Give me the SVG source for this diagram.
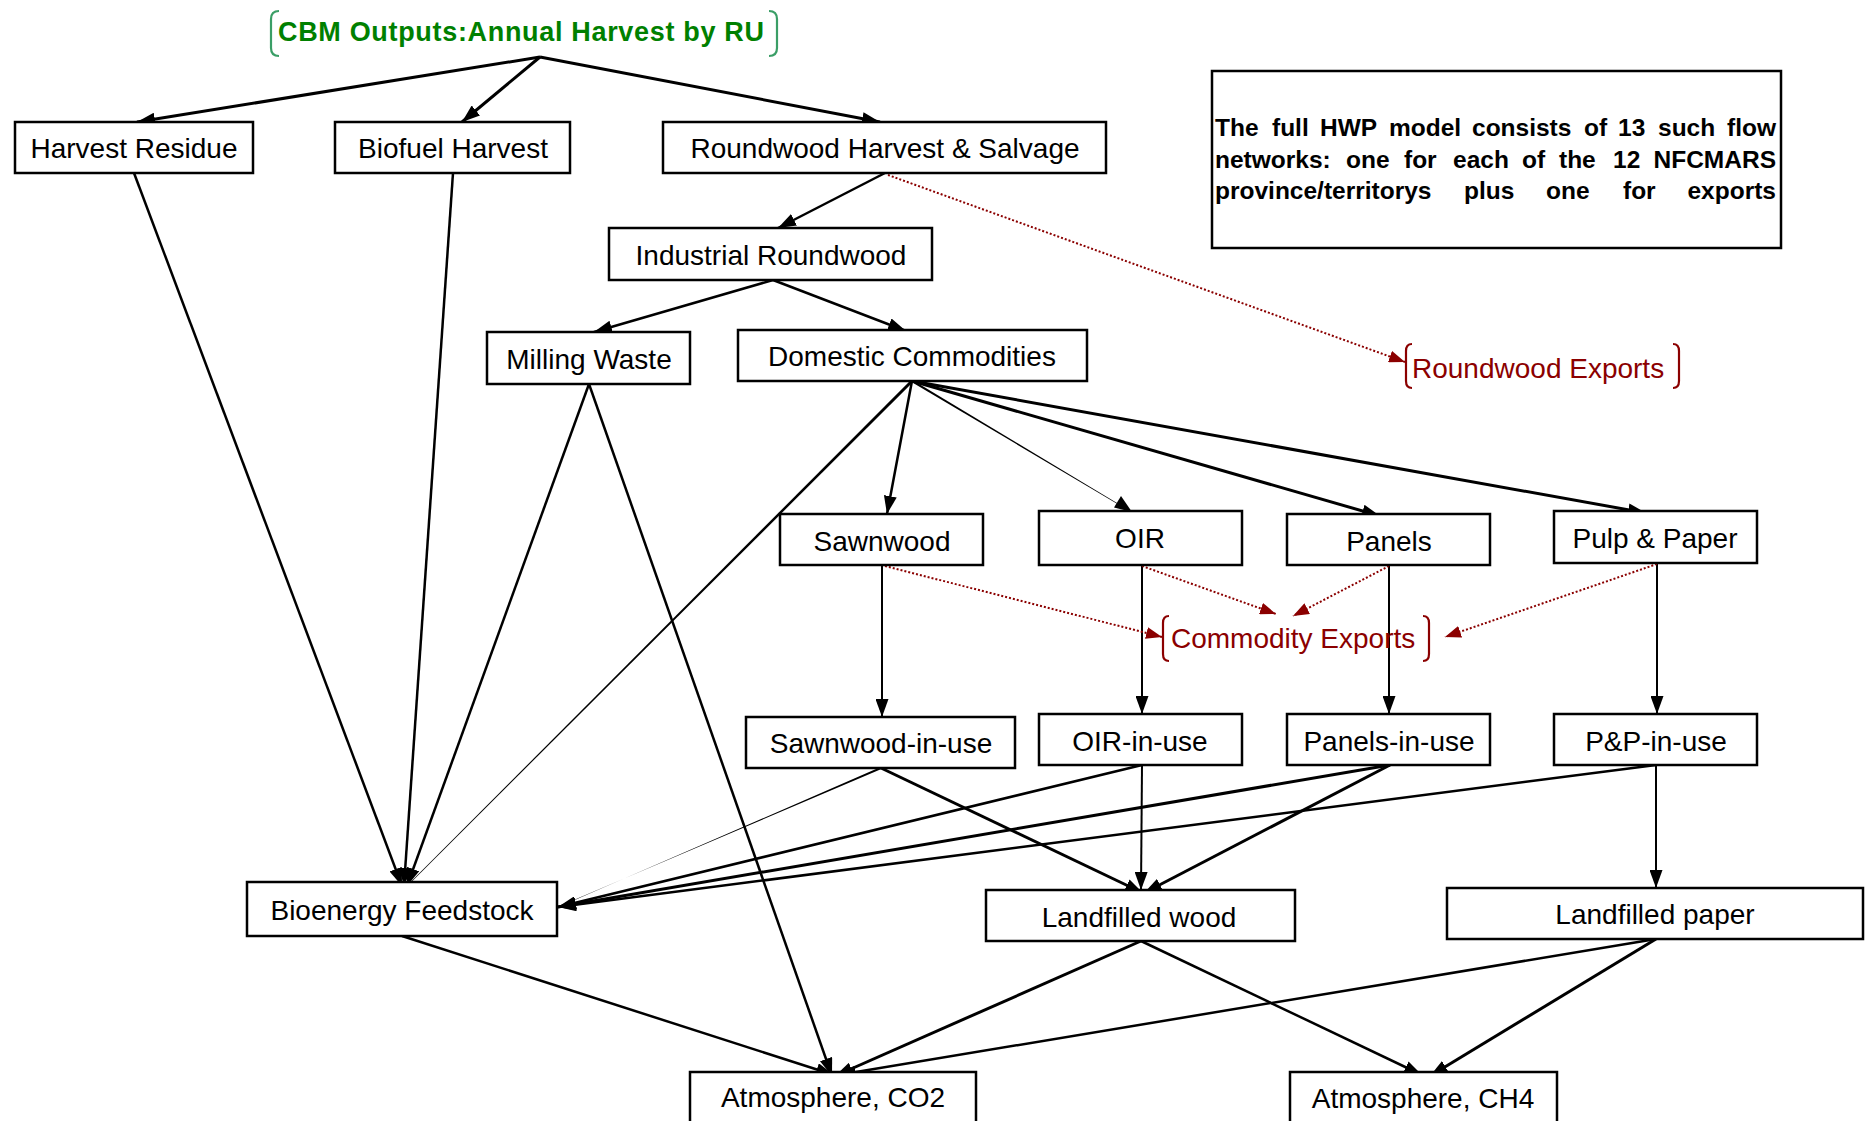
<svg xmlns="http://www.w3.org/2000/svg" width="1870" height="1121" viewBox="0 0 1870 1121">
<style>
.box{fill:#fff;stroke:#000;stroke-width:2.5}
.lbl{font-family:"Liberation Sans",Arial,Helvetica,sans-serif;font-size:28px;fill:#000;text-anchor:middle}
.note{font-family:"Liberation Sans",Arial,Helvetica,sans-serif;font-size:24.5px;font-weight:bold;fill:#000}
.c{stroke:#000;fill:none;marker-end:url(#ah)}
.w2{stroke-width:2}
.w25{stroke-width:2.5}
.w3{stroke-width:3}
.d{stroke:#8B0000;stroke-width:2;stroke-dasharray:2 2;fill:none;marker-end:url(#ahr)}
.taper{fill:#000;stroke:none}
.brk{fill:none;stroke-width:2.2}
</style>
<defs>
<marker id="ah" markerUnits="userSpaceOnUse" markerWidth="18" markerHeight="13" refX="18" refY="6.5" orient="auto">
<path d="M0,0 L18,6.5 L0,13 z" fill="#000"/>
</marker>
<marker id="ahr" markerUnits="userSpaceOnUse" markerWidth="16" markerHeight="12" refX="16" refY="6" orient="auto">
<path d="M0,0 L16,6 L0,12 z" fill="#8B0000"/>
</marker>
</defs>
<rect width="1870" height="1121" fill="#fff"/>

<g id="connectors">
<line class="c w3" x1="540" y1="57" x2="137" y2="122"/>
<line class="c w3" x1="540" y1="57" x2="462" y2="122"/>
<line class="c w3" x1="540" y1="57" x2="880" y2="122"/>
<line class="c w25" x1="134" y1="173" x2="402" y2="886"/>
<line class="c w25" x1="453" y1="173" x2="404" y2="886"/>
<line class="c w25" x1="589" y1="384" x2="407" y2="886"/>
<line class="c w25" x1="589" y1="384" x2="832" y2="1076"/>
<polygon class="taper" points="913.1,382.1 411.2,882.2 410.8,881.8 910.9,379.9"/>
<line class="c w25" x1="885" y1="173" x2="778" y2="228"/>
<line class="d" x1="888" y1="175" x2="1405" y2="362"/>
<line class="c w25" x1="773" y1="280" x2="594" y2="332"/>
<line class="c w25" x1="773" y1="280" x2="906" y2="331"/>
<line class="c w25" x1="912" y1="381" x2="887" y2="514"/>
<polygon class="taper" points="911.5,381.9 1120,505.6 1120.3,505 912.5,380.1"/>
<path d="M1132,512 L1114,507.5 L1121,496 z" fill="#000"/>
<line class="c w3" x1="912" y1="381" x2="1380" y2="516"/>
<line class="c w3" x1="912" y1="381" x2="1646" y2="513"/>
<line class="c w2" x1="882" y1="565" x2="882" y2="717"/>
<line class="c w2" x1="1142" y1="565" x2="1142" y2="714"/>
<line class="c w2" x1="1389" y1="565" x2="1389" y2="714"/>
<line class="c w2" x1="1657" y1="563" x2="1657" y2="714"/>
<line class="d" x1="885" y1="566" x2="1162" y2="637"/>
<line class="d" x1="1142" y1="566" x2="1276" y2="614"/>
<line class="d" x1="1389" y1="566" x2="1293" y2="616"/>
<line class="d" x1="1657" y1="564" x2="1445" y2="637"/>
<polygon class="taper" points="880.6,767.1 558.1,907.3 557.9,906.7 881.4,768.9"/>
<line class="c w3" x1="881" y1="768" x2="1143" y2="893"/>
<line class="c w25" x1="1142" y1="765" x2="558" y2="907"/>
<line class="c w2" x1="1142" y1="765" x2="1141" y2="890"/>
<line class="c w3" x1="1390" y1="765" x2="558" y2="907"/>
<line class="c w3" x1="1390" y1="765" x2="1144" y2="893"/>
<line class="c w25" x1="1656" y1="765" x2="558" y2="907"/>
<line class="c w2" x1="1656" y1="765" x2="1656" y2="888"/>
<line class="c w25" x1="402" y1="936" x2="834" y2="1075"/>
<line class="c w3" x1="1141" y1="941" x2="835" y2="1076"/>
<line class="c w25" x1="1141" y1="941" x2="1422" y2="1075"/>
<line class="c w25" x1="1656" y1="939" x2="838" y2="1075"/>
<line class="c w3" x1="1656" y1="939" x2="1430" y2="1076"/>
</g>

<g id="cbm-outputs">
<path class="brk" stroke="#3A9E66" d="M279,11 Q271,11 271,19 L271,48 Q271,56 279,56"/>
<path class="brk" stroke="#3A9E66" d="M769,11 Q777,11 777,19 L777,48 Q777,56 769,56"/>
<text x="521" y="41" font-family="'Liberation Sans',Arial,Helvetica,sans-serif" font-size="27" font-weight="bold" fill="#008000" text-anchor="middle" textLength="486" lengthAdjust="spacing">CBM Outputs:Annual Harvest by RU</text>
</g>

<g id="note">
<rect class="box" x="1212" y="71" width="569" height="177"/>
<text class="note" y="136"><tspan x="1215">The</tspan><tspan x="1272">full</tspan><tspan x="1320">HWP</tspan><tspan x="1389">model</tspan><tspan x="1472">consists</tspan><tspan x="1584">of</tspan><tspan x="1618">13</tspan><tspan x="1658">such</tspan></text>
<text class="note" x="1776" y="136" text-anchor="end">flow</text>
<text class="note" y="168"><tspan x="1215">networks:</tspan><tspan x="1346">one</tspan><tspan x="1404">for</tspan><tspan x="1453">each</tspan><tspan x="1522">of</tspan><tspan x="1559">the</tspan><tspan x="1613">12</tspan></text>
<text class="note" x="1776" y="168" text-anchor="end">NFCMARS</text>
<text class="note" y="199"><tspan x="1215">province/territorys</tspan><tspan x="1464">plus</tspan><tspan x="1546">one</tspan><tspan x="1623">for</tspan></text>
<text class="note" x="1776" y="199" text-anchor="end">exports</text>
</g>

<g id="harvest-residue"><rect class="box" x="15" y="122" width="238" height="51"/><text class="lbl" x="134" y="158">Harvest Residue</text></g>
<g id="biofuel-harvest"><rect class="box" x="335" y="122" width="235" height="51"/><text class="lbl" x="453" y="158">Biofuel Harvest</text></g>
<g id="roundwood-harvest"><rect class="box" x="663" y="122" width="443" height="51"/><text class="lbl" x="885" y="158">Roundwood Harvest &amp; Salvage</text></g>
<g id="industrial-roundwood"><rect class="box" x="609" y="228" width="323" height="52"/><text class="lbl" x="771" y="265">Industrial Roundwood</text></g>
<g id="milling-waste"><rect class="box" x="487" y="332" width="203" height="52"/><text class="lbl" x="589" y="369">Milling Waste</text></g>
<g id="domestic-commodities"><rect class="box" x="738" y="330" width="349" height="51"/><text class="lbl" x="912" y="366">Domestic Commodities</text></g>

<g id="roundwood-exports">
<path class="brk" stroke="#8B0000" d="M1412,344 Q1406,344 1406,351 L1406,381 Q1406,388 1412,388"/>
<path class="brk" stroke="#8B0000" d="M1673,344 Q1679,344 1679,351 L1679,381 Q1679,388 1673,388"/>
<text x="1412" y="378" font-family="'Liberation Sans',Arial,Helvetica,sans-serif" font-size="28" fill="#8B0000">Roundwood Exports</text>
</g>

<g id="sawnwood"><rect class="box" x="780" y="514" width="203" height="51"/><text class="lbl" x="882" y="551">Sawnwood</text></g>
<g id="oir"><rect class="box" x="1039" y="511" width="203" height="54"/><text class="lbl" x="1140" y="548">OIR</text></g>
<g id="panels"><rect class="box" x="1287" y="514" width="203" height="51"/><text class="lbl" x="1389" y="551">Panels</text></g>
<g id="pulp-paper"><rect class="box" x="1554" y="511" width="203" height="52"/><text class="lbl" x="1655" y="548">Pulp &amp; Paper</text></g>

<g id="commodity-exports">
<path class="brk" stroke="#8B0000" d="M1169,616 Q1163,616 1163,623 L1163,654 Q1163,661 1169,661"/>
<path class="brk" stroke="#8B0000" d="M1423,616 Q1429,616 1429,623 L1429,654 Q1429,661 1423,661"/>
<text x="1171" y="648" font-family="'Liberation Sans',Arial,Helvetica,sans-serif" font-size="28" fill="#8B0000">Commodity Exports</text>
</g>

<g id="sawnwood-in-use"><rect class="box" x="746" y="717" width="269" height="51"/><text class="lbl" x="881" y="753">Sawnwood-in-use</text></g>
<g id="oir-in-use"><rect class="box" x="1039" y="714" width="203" height="51"/><text class="lbl" x="1140" y="751">OIR-in-use</text></g>
<g id="panels-in-use"><rect class="box" x="1287" y="714" width="203" height="51"/><text class="lbl" x="1389" y="751">Panels-in-use</text></g>
<g id="pp-in-use"><rect class="box" x="1554" y="714" width="203" height="51"/><text class="lbl" x="1656" y="751">P&amp;P-in-use</text></g>

<g id="bioenergy-feedstock"><rect class="box" x="247" y="882" width="310" height="54"/><text class="lbl" x="402" y="920">Bioenergy Feedstock</text></g>
<g id="landfilled-wood"><rect class="box" x="986" y="890" width="309" height="51"/><text class="lbl" x="1139" y="927">Landfilled wood</text></g>
<g id="landfilled-paper"><rect class="box" x="1447" y="888" width="416" height="51"/><text class="lbl" x="1655" y="924">Landfilled paper</text></g>
<g id="atmosphere-co2"><rect class="box" x="690" y="1072" width="286" height="60"/><text class="lbl" x="833" y="1107">Atmosphere, CO2</text></g>
<g id="atmosphere-ch4"><rect class="box" x="1290" y="1072" width="267" height="60"/><text class="lbl" x="1423" y="1108">Atmosphere, CH4</text></g>
</svg>
